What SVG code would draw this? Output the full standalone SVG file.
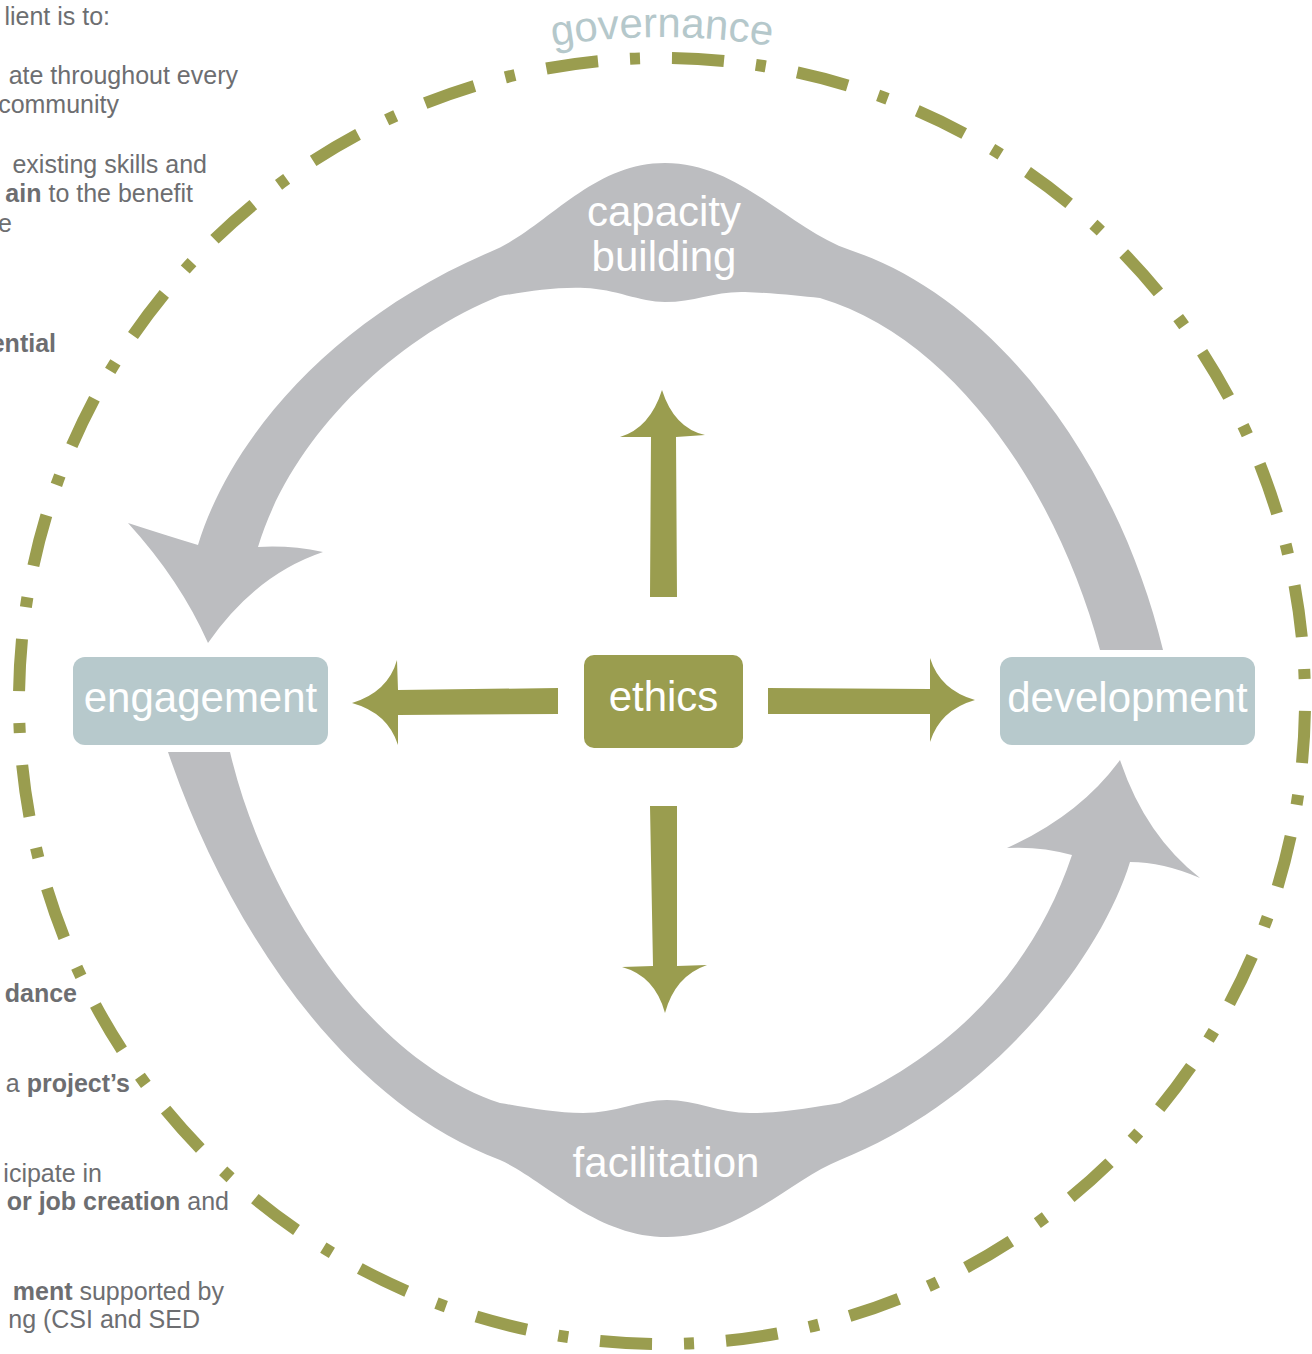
<svg xmlns="http://www.w3.org/2000/svg" width="1312" height="1354" viewBox="0 0 1312 1354">
<style>
.box{fill:#b7c9cc}
.eth{fill:#9a9d4f}
.lbl{font-family:"Liberation Sans",Arial,sans-serif;font-size:42px;fill:#ffffff;text-anchor:middle}
.gray{fill:#bcbdc0}
.olive{fill:#9a9d4f}
.side{font-family:"Liberation Sans",Arial,sans-serif;font-size:25px;fill:#6d6e71;text-anchor:end}
.b{font-weight:bold}
.gov{font-family:"Liberation Sans",Arial,sans-serif;font-size:42px;fill:#b5c8cb;text-anchor:middle}
</style>
<defs>
<path id="govArc" d="M 330 126 A 664 664 0 0 1 994 126"/>
</defs>
<rect width="1312" height="1354" fill="#ffffff"/>

<g id="side-text">
<text class="side" x="110" y="25">lient is to:</text>
<text class="side" x="238" y="84">ate throughout every</text>
<text class="side" x="119" y="113">community</text>
<text class="side" x="207" y="173">existing skills and</text>
<text class="side" x="193" y="202"><tspan class="b">ain</tspan> to the benefit</text>
<text class="side" x="12" y="232">e</text>
<text class="side b" x="56" y="352">ential</text>
<text class="side b" x="77" y="1002">dance</text>
<text class="side" x="130" y="1092">a <tspan class="b">project’s</tspan></text>
<text class="side" x="102" y="1182">icipate in</text>
<text class="side" x="229" y="1210"><tspan class="b">or job creation</tspan> and</text>
<text class="side" x="224" y="1300"><tspan class="b">ment</tspan> supported by</text>
<text class="side" x="200" y="1328">ng (CSI and SED</text>
</g>

<g id="governance">
<path d="M 662 58 A 643 643 0 1 1 662 1344 A 643 643 0 1 1 662 58" fill="none" stroke="#9a9d4f" stroke-width="12" pathLength="4032" stroke-dasharray="52 32 10 32" stroke-dashoffset="-10"/>
<text class="gov"><textPath href="#govArc" startOffset="50%">governance</textPath></text>
</g>

<g id="connectors">
<g id="capacity-building">
<path class="gray" d="M 1163 650 C 1120 470 1000 300 850 250 C 790 230 740 163 665 163 C 590 163 545 230 490 252 C 330 320 230 440 198 545 Q 165 535 128 523 Q 180 580 208 643 Q 255 575 323 552 Q 290 545 258 547 C 290 440 390 340 500 296 C 530 291 555 287 585 288 C 615 289 640 302 665 302 C 695 302 715 291 745 292 C 775 293 800 296 820 298 C 960 340 1060 500 1100 650 Z"/>
<text class="lbl" x="664" y="226">capacity</text>
<text class="lbl" x="664" y="271">building</text>
</g>
<g id="facilitation">
<path class="gray" d="M 168 752 L 230 752 C 265 900 370 1060 500 1103 C 530 1108 555 1113 583 1113 C 615 1113 640 1100 667 1100 C 695 1100 720 1113 750 1113 C 785 1113 815 1107 840 1103 C 940 1060 1030 980 1072 855 Q 1040 846 1007 848 Q 1080 815 1120 760 Q 1145 835 1200 878 Q 1163 862 1130 862 C 1100 960 990 1100 840 1160 C 790 1180 740 1237 667 1237 C 595 1237 545 1180 500 1160 C 340 1100 225 920 168 752 Z"/>
<text class="lbl" x="666" y="1177">facilitation</text>
</g>
<path class="olive" d="M 650 597 L 651 437 L 620 437 Q 650 428 662 390 Q 674 428 705 435 L 676 437 L 677 597 Z"/>
<path class="olive" d="M 650 806 L 677 806 L 677 966 L 707 965 Q 675 976 665 1013 Q 655 976 622 967 L 653 966 Z"/>
<path class="olive" d="M 558 688 L 558 714 L 398 715 L 398 745 Q 388 713 352 703 Q 388 692 397 660 L 398 690 Z"/>
<path class="olive" d="M 768 688 L 930 689 L 930 658 Q 940 690 975 700 Q 940 710 930 742 L 930 714 L 768 714 Z"/>
</g>

<g id="engagement">
<rect class="box" x="73" y="657" width="255" height="88" rx="12"/>
<text class="lbl" x="200.5" y="712">engagement</text>
</g>
<g id="ethics">
<rect class="eth" x="584" y="655" width="159" height="93" rx="10"/>
<text class="lbl" x="663.5" y="711">ethics</text>
</g>
<g id="development">
<rect class="box" x="1000" y="657" width="255" height="88" rx="12"/>
<text class="lbl" x="1127.5" y="712">development</text>
</g>
</svg>
